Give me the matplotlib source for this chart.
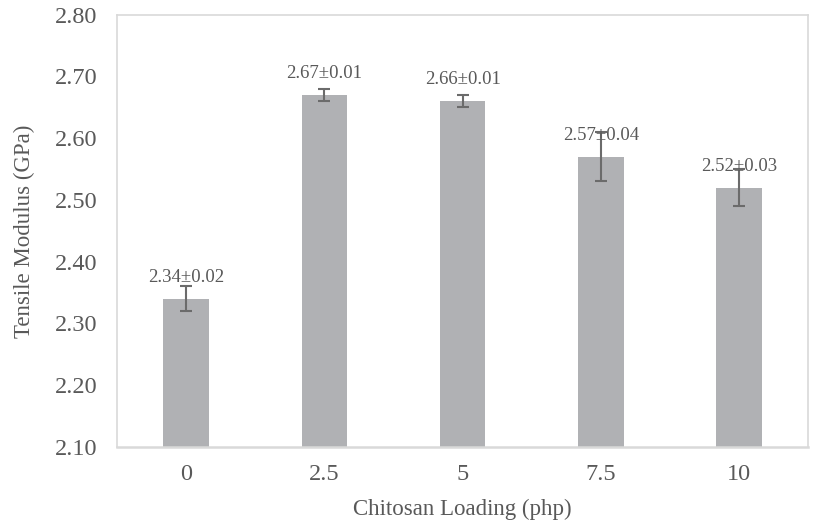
import matplotlib.pyplot as plt
import numpy as np

plt.rcParams['font.family'] = ['Liberation Serif', 'DejaVu Serif']

loading = ['0', '2.5', '5', '7.5', '10']
modulus = [2.34, 2.67, 2.66, 2.57, 2.52]
errors = [0.02, 0.01, 0.01, 0.04, 0.03]
labels = ['2.34±0.02', '2.67±0.01', '2.66±0.01', '2.57±0.04', '2.52±0.03']

txt = '#595959'
fig = plt.figure(figsize=(8.18, 5.27), dpi=100)
ax = fig.add_axes([0.143, 0.152, 0.845, 0.82])

x = np.arange(len(loading))
ax.bar(x, modulus, width=0.33, color='#B0B1B4', zorder=2)
ax.errorbar(x, modulus, yerr=errors, fmt='none', ecolor='#6B6B6B',
            elinewidth=1.5, capsize=4.5, capthick=1.5, zorder=3)

for xi, yi, lab in zip(x, modulus, labels):
    ax.annotate(lab, (xi, yi), xytext=(0, 13), textcoords='offset pixels',
                ha='center', va='bottom', fontsize=13.5, color=txt)

ax.set_xlim(-0.5, 4.5)
ax.set_ylim(2.10, 2.80)
ax.set_yticks(np.arange(2.10, 2.81, 0.10))
ax.set_yticklabels(['%.2f' % v for v in np.arange(2.10, 2.81, 0.10)])
ax.set_xticks(x)
ax.set_xticklabels(loading)
ax.tick_params(length=0, labelsize=17.5, colors=txt, pad=12)
ax.tick_params(axis='y', pad=14)

for s in ax.spines.values():
    s.set_color('#D9D9D9')
    s.set_linewidth(1.2)
ax.spines['bottom'].set_linewidth(1.8)

ax.set_xlabel('Chitosan Loading (php)', fontsize=16.5, color=txt, labelpad=10)
ax.set_ylabel('Tensile Modulus (GPa)', fontsize=16.5, color=txt, labelpad=14)

fig.savefig('out.png', dpi=100)
